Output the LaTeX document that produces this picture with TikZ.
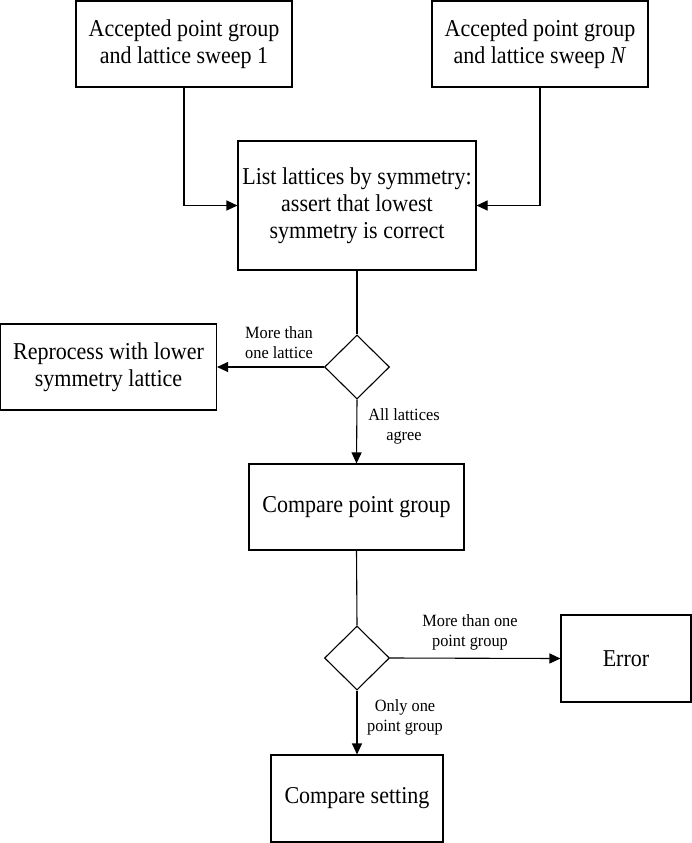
\documentclass[tikz,border=0pt]{standalone}
\usepackage{fontspec}
\setmainfont{Liberation Serif}
\newfontfamily\boxfont[FakeStretch=0.91]{Liberation Serif}
\newfontfamily\lblfont[FakeStretch=0.95]{Liberation Serif}
\usetikzlibrary{shapes.geometric,arrows.meta}
\tikzset{
  box/.style={draw, line width=1.1bp, rectangle, inner sep=0pt, align=center,
    font=\boxfont\fontsize{24.2bp}{27bp}\selectfont},
  dec/.style={draw, line width=1.1bp, diamond, inner sep=0pt, minimum width=65bp, minimum height=64bp},
  lbl/.style={inner sep=0pt, align=center, font=\lblfont\fontsize{17.2bp}{20bp}\selectfont},
  conn/.style={line width=1.1bp},
  arr/.style={conn, -{Triangle[length=11bp,width=10bp]}}
}
\begin{document}
\begin{tikzpicture}[x=1bp,y=-1bp]
\useasboundingbox (0,0) rectangle (692,843);
\node[box, minimum width=216bp, minimum height=86bp] (b1) at (184,44) {Accepted point group\\and lattice sweep 1};
\node[box, minimum width=216bp, minimum height=86bp] (b2) at (540,44) {Accepted point group\\and lattice sweep \textit{N}};
\node[box, minimum width=238bp, minimum height=129bp] (b3) at (357,205.5) {List lattices by symmetry:\\assert that lowest\\symmetry is correct};
\node[dec] (d1) at (357,367) {};
\node[box, minimum width=216bp, minimum height=86bp] (rp) at (108.5,367) {Reprocess with lower\\symmetry lattice};
\node[box, minimum width=215bp, minimum height=86bp] (b4) at (356.5,507) {Compare point group};
\node[dec] (d2) at (357,658) {};
\node[box, minimum width=130bp, minimum height=87bp] (err) at (626,658.5) {Error};
\node[box, minimum width=172bp, minimum height=87bp] (b5) at (357,798.5) {Compare setting};
\draw[arr] (b1.south) |- (b3.west);
\draw[arr] (b2.south) |- (b3.east);
\draw[conn] (b3.south) -- (d1.north);
\draw[arr] (d1.west) -- (rp.east);
\draw[arr] (d1.south) -- (b4.north);
\draw[conn] (b4.south) -- (d2.north);
\draw[arr] (d2.east) -- (err.west);
\draw[arr] (d2.south) -- (b5.north);
\node[lbl] (l1) at (279,343) {More than\\one lattice};
\node[lbl] (l2) at (404,426) {All lattices\\agree};
\node[lbl] (l3) at (470,632) {More than one\\point group};
\node[lbl] (l4) at (405,717) {Only one\\point group};
\end{tikzpicture}
\end{document}
